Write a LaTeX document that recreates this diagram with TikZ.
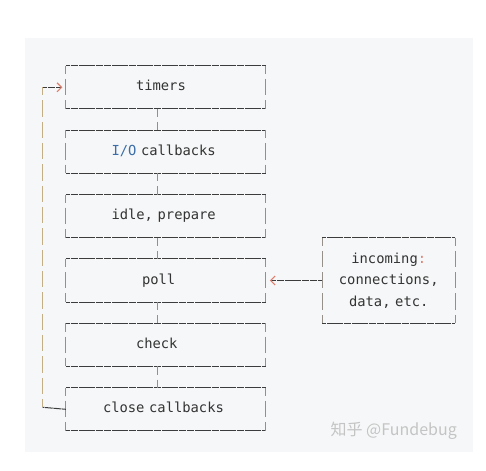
\documentclass[tikz,border=0pt]{standalone}
\usepackage{fontspec}
\setmonofont{DejaVu Sans Mono}
\newfontfamily\cjk{Noto Sans CJK SC}
\usetikzlibrary{arrows.meta, positioning}

\definecolor{panel}{HTML}{F6F7F8}
\definecolor{rule}{HTML}{3C3C3C}
\definecolor{sidel}{HTML}{95918A}
\definecolor{sider}{HTML}{6A9CB3}
\definecolor{loopc}{HTML}{C4AE86}
\definecolor{tipred}{HTML}{DE7F6E}
\definecolor{txt}{HTML}{333333}
\definecolor{kwblue}{HTML}{3B6EA8}
\definecolor{wm}{HTML}{C4C4C4}

\begin{document}
\begin{tikzpicture}[
    x=1pt, y=-1pt,
    node distance=21.33pt,
    stage/.style={minimum height=42.67pt, text width=199.7pt, inner xsep=0pt, inner ysep=0pt,
        align=left, text height=10pt, text depth=3pt, text=txt,
        font=\ttfamily\fontsize{13.8pt}{21.33pt}\selectfont},
    source/.style={minimum height=85.33pt, text width=132.7pt, inner xsep=0pt, inner ysep=0pt,
        align=center, text=txt, font=\ttfamily\fontsize{13.8pt}{21.33pt}\selectfont},
    hline/.style={draw=rule, line width=1pt, dash pattern=on 7.6pt off 0.7pt, dash phase=3.5pt},
    vline/.style={line width=1pt, dash pattern=on 16.33pt off 5pt, dash phase=8.17pt},
    tip/.style={-{Straight Barb[color=tipred, length=4.5pt, width=9pt, line width=1.1pt]}}
]
\useasboundingbox (0,0) rectangle (486,470);
\fill[panel] (25,38) rectangle (473,452);

% the loop phases
\node[stage] (timers) at (165.85,87.3) {\hspace*{70pt}timers};
\node[stage, below=of timers] (io) {\hspace*{45.5pt}\textcolor{kwblue}{I/O} callbacks};
\node[stage, below=of io] (idle) {\hspace*{45.5pt}idle, prepare};
\node[stage, below=of idle] (poll) {\hspace*{76pt}poll};
\node[stage, below=of poll] (check) {\hspace*{70pt}check};
\node[stage, below=of check] (close) {\hspace*{37pt}close callbacks};
\node[source, right=56.3pt of poll] (incoming) {incoming\textcolor{tipred}{:}\\connections,\\data, etc.};

\foreach \n in {timers,io,idle,poll,check,close,incoming}{
  \draw[hline] (\n.north west) -- (\n.north east) (\n.south west) -- (\n.south east);
  \draw[vline, draw=sidel] (\n.north west) -- (\n.south west);
  \draw[vline, draw=sider] (\n.north east) -- (\n.south east);
}

\foreach \a/\b in {timers/io, io/idle, idle/poll, poll/check, check/close}
  \draw[vline, draw=sider] ([xshift=-8.5pt]\a.south) -- ([xshift=-8.5pt]\b.north);

% back to the start
\coordinate (looptop) at (42.7,87.3);
\coordinate (loopbot) at (42.7,407.3);
\draw[hline] (close.west) -- (loopbot);
\draw[vline, draw=loopc] (looptop) -- (loopbot);
\draw[hline, tip] (looptop) -- ([xshift=-3.5pt]timers.west);

\draw[hline, tip] (incoming.west) -- ([xshift=4pt]poll.east);

\node[text=wm, anchor=east, inner sep=0pt, font=\cjk\fontsize{16pt}{16pt}\selectfont] (credit) at (457,431) {知乎 @Fundebug};
\end{tikzpicture}
\end{document}
